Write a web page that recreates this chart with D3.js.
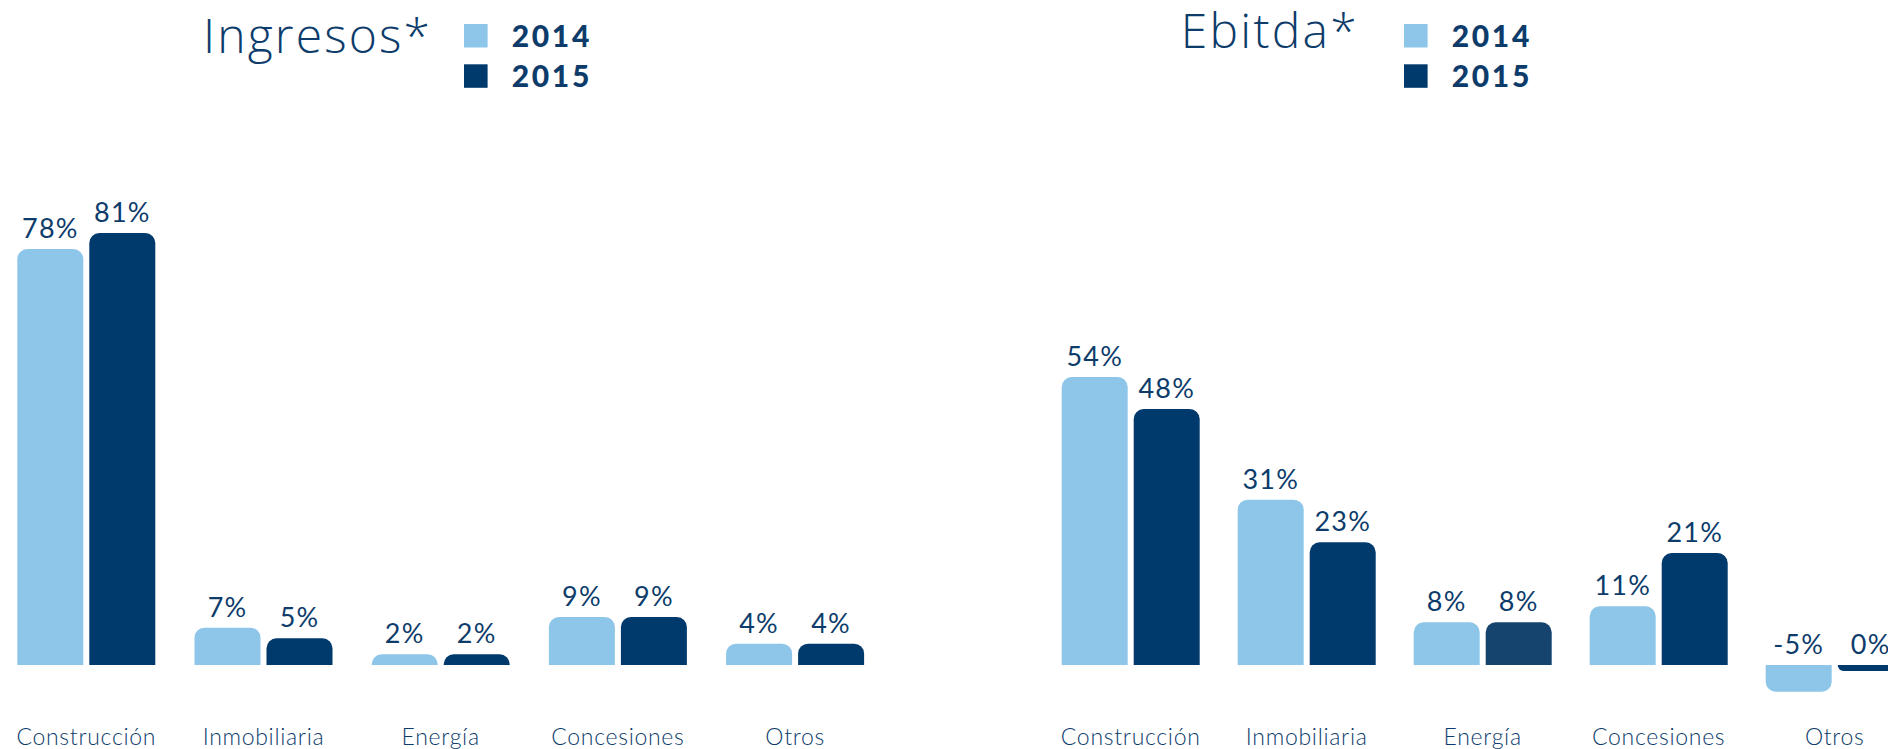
<!DOCTYPE html>
<html>
<head>
<meta charset="utf-8">
<script src="https://cdn.jsdelivr.net/npm/d3@7"></script>
<style>
  html, body { margin: 0; padding: 0; background: #ffffff; }
  svg { display: block; }
</style>
</head>
<body>
<svg id="chart" width="1888" height="749"></svg>
<script>
// Segment shares per business line, 2014 vs 2015
const categories = ["Construcción", "Inmobiliaria", "Energía", "Concesiones", "Otros"];
const years = ["2014", "2015"];
const ingresos2014 = [78, 7, 2, 9, 4];
const ingresos2015 = [81, 5, 2, 9, 4];
const ebitda2014 = [54, 31, 8, 11, -5];
const ebitda2015 = [48, 23, 8, 21, 0];

const LIGHT = "#8ec6e9";
const DARK = "#003a6d";
const DARK_ALT = "#15456e";
const TEXT = "#0d3c6b";

const svg = d3.select("#chart");

// Shared vertical scale for both panels
const y = d3.scaleLinear().domain([0, 81]).range([665, 233]);

const panels = [
  {
    title: "Ingresos*", titleX: 203, titleY: 53, titleLen: 227,
    legendX: 464, x0: 17.3, step: 177.2,
    series: [ingresos2014, ingresos2015]
  },
  {
    title: "Ebitda*", titleX: 1180.7, titleY: 47.5, titleLen: 176,
    legendX: 1404, x0: 1061.7, step: 176,
    series: [ebitda2014, ebitda2015]
  }
];

// Bar with rounded corners on the end away from the baseline
function barPath(x, w, base, end, r) {
  const h = Math.abs(end - base);
  const rr = Math.min(r, h, w / 2);
  if (end <= base) {
    return `M${x},${base}V${end + rr}A${rr},${rr} 0 0 1 ${x + rr},${end}` +
           `H${x + w - rr}A${rr},${rr} 0 0 1 ${x + w},${end + rr}V${base}Z`;
  }
  return `M${x},${base}V${end - rr}A${rr},${rr} 0 0 0 ${x + rr},${end}` +
         `H${x + w - rr}A${rr},${rr} 0 0 0 ${x + w},${end - rr}V${base}Z`;
}

const fmt = v => `${v}%`;

panels.forEach(p => {
  const groupW = 138;
  const gap = p.step - groupW;
  const x = d3.scaleBand()
    .domain(categories)
    .range([p.x0, p.x0 + categories.length * p.step - gap])
    .paddingInner(gap / p.step)
    .paddingOuter(0);

  const xi = d3.scaleBand()
    .domain(years)
    .range([0, x.bandwidth()])
    .paddingInner(6 / 72);

  const color = d3.scaleOrdinal().domain(years).range([LIGHT, DARK]);

  const g = svg.append("g");

  // Title
  g.append("text")
    .attr("x", p.titleX)
    .attr("y", p.titleY)
    .attr("textLength", p.titleLen)
    .attr("lengthAdjust", "spacing")
    .attr("font-family", "'Open Sans', Lato, sans-serif")
    .attr("font-weight", 300)
    .attr("font-size", 48)
    .attr("fill", TEXT)
    .text(p.title);

  // Legend
  const leg = g.selectAll(".leg").data(years).enter().append("g")
    .attr("transform", (d, i) => `translate(${p.legendX},${24 + i * 40.3})`);
  leg.append("rect")
    .attr("width", 23.6).attr("height", 23.5)
    .attr("fill", d => color(d));
  leg.append("text")
    .attr("x", 47.7).attr("y", 22.6)
    .attr("textLength", 77.6)
    .attr("lengthAdjust", "spacing")
    .attr("font-family", "Lato, 'Open Sans', sans-serif")
    .attr("font-weight", 900)
    .attr("font-size", 30)
    .attr("fill", TEXT)
    .text(d => d);

  // Bars
  const rows = categories.map((c, i) => ({
    cat: c, i,
    vals: years.map((yr, k) => ({ cat: c, year: yr, v: p.series[k][i], i }))
  }));

  const groups = g.selectAll(".grp").data(rows).enter().append("g")
    .attr("transform", d => `translate(${x(d.cat)},0)`);

  const bars = groups.selectAll(".bar").data(d => d.vals).enter();

  bars.append("path")
    .attr("d", d => {
      let end = y(d.v);
      if (d.v === 0) end = y(0) + 6; // flat marker so a zero share stays visible
      return barPath(xi(d.year), xi.bandwidth(), y(0), end, 10);
    })
    .attr("fill", d => {
      if (p.title === "Ebitda*" && d.cat === "Energía" && d.year === "2015") return DARK_ALT;
      return color(d.year);
    });

  bars.append("text")
    .attr("x", d => xi(d.year) + xi.bandwidth() / 2)
    .attr("y", d => Math.min(y(d.v), y(0)) - 11)
    .attr("text-anchor", "middle")
    .attr("font-family", "Lato, 'Open Sans', sans-serif")
    .attr("font-weight", 400)
    .attr("font-size", 27)
    .attr("letter-spacing", 1.2)
    .attr("fill", TEXT)
    .text(d => fmt(d.v));

  // Category axis labels
  const axis = d3.axisBottom(x).tickSize(0).tickPadding(0);
  const ax = g.append("g").attr("transform", "translate(0,728)").call(axis);
  ax.select(".domain").remove();
  ax.selectAll("text")
    .attr("dy", 0)
    .attr("y", 17)
    .attr("font-family", "Lato, 'Open Sans', sans-serif")
    .attr("font-weight", 300)
    .attr("font-size", 23)
    .attr("letter-spacing", 0.7)
    .attr("fill", TEXT);
});
</script>
</body>
</html>
